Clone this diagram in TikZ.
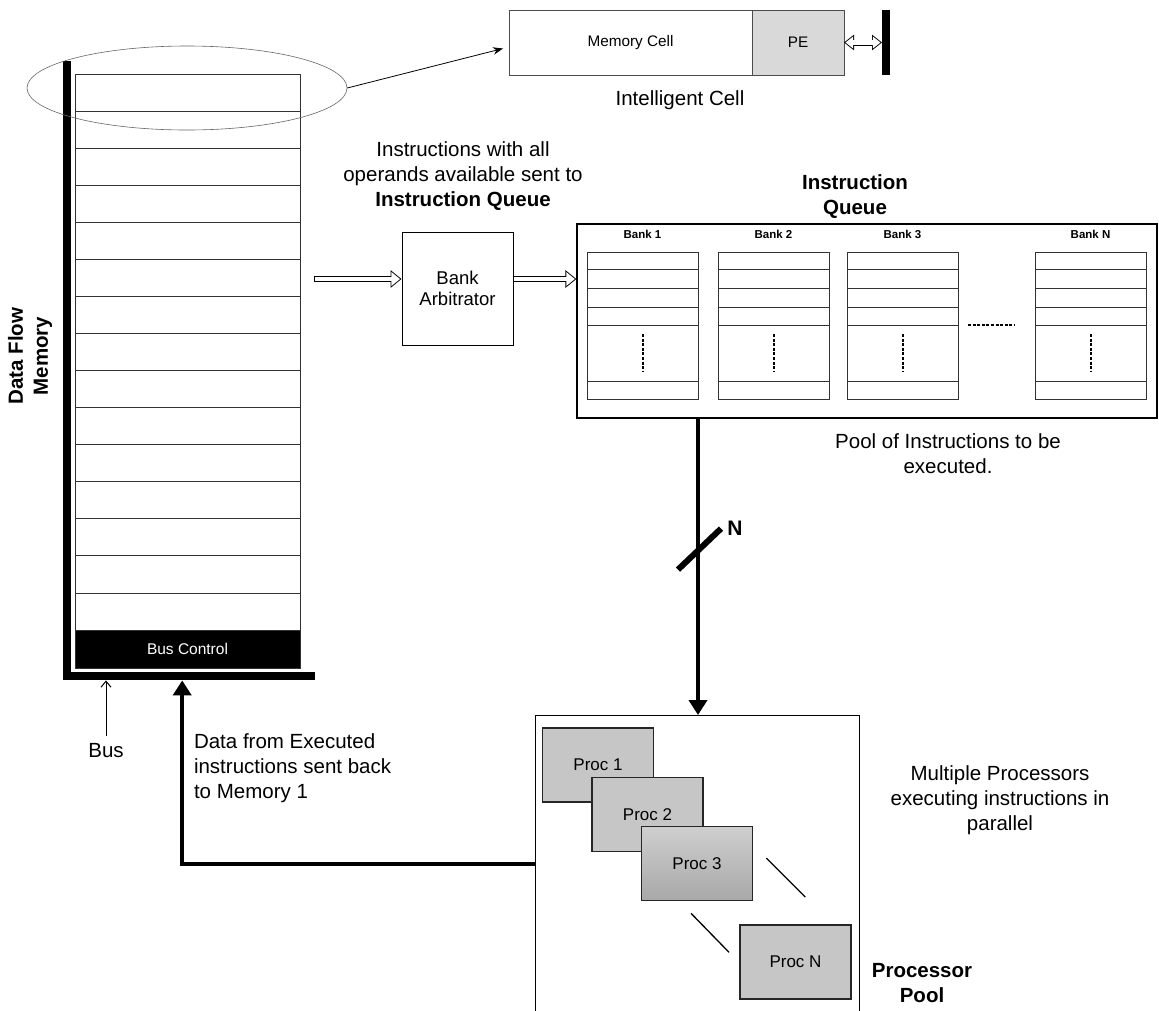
\documentclass[tikz,border=0pt]{standalone}
\usepackage{fontspec}
\setmainfont{Liberation Sans}
\usetikzlibrary{arrows.meta,positioning,calc,shapes.geometric}

\tikzset{
  body/.style={font=\fontsize{20.5}{25}\selectfont, align=center},
  bodybf/.style={font=\fontsize{20.5}{25}\selectfont\bfseries, align=center},
  memrow/.style={draw=black!80, line width=0.9pt, minimum width=225pt, minimum height=37.07pt, inner sep=0pt, outer sep=0pt},
  bankrow/.style={draw=black!80, line width=0.9pt, minimum width=111pt, inner sep=0pt, outer sep=0pt},
  procbox/.style={draw=black!85, line width=1.6pt, fill=gray!45, minimum width=111pt, minimum height=74pt, inner sep=0pt, font=\fontsize{17}{20}\selectfont},
  hollowarrow/.style={line width=6pt, -{Triangle[length=11pt, width=17pt]},
    postaction={draw=white, line width=4.2pt, shorten <=0.9pt, shorten >=1.5pt, -{Triangle[length=8.6pt, width=13.3pt]}}},
  hollowboth/.style={line width=6pt, {Triangle[length=10pt, width=15pt]}-{Triangle[length=10pt, width=15pt]},
    postaction={draw=white, line width=4.2pt, shorten <=1.5pt, shorten >=1.5pt, {Triangle[length=7.6pt, width=11.5pt]}-{Triangle[length=7.6pt, width=11.5pt]}}},
  thickarrow/.style={line width=4pt, -{Triangle[length=15pt, width=18pt]}},
  dots/.style={dash pattern=on 3pt off 1.6pt, line width=2pt},
}

\begin{document}
\begin{tikzpicture}[x=1pt, y=-1pt]
  \useasboundingbox (0,0) rectangle (1159,1010);
  \clip (0,0) rectangle (1159,1010);

  \node[fill=black, minimum width=8pt, minimum height=619pt, inner sep=0pt, anchor=north west] (memspine) at (63,61) {};
  \node[fill=black, minimum width=252pt, minimum height=8pt, inner sep=0pt, anchor=north west] (membus) at (63,672) {};
  \foreach \i in {0,...,14}
    \node[memrow] (row\i) at (187.5,{92.5+37.07*\i}) {};
  \node[memrow, fill=black, text=white, minimum height=38pt, anchor=north, font=\fontsize{15.5}{18}\selectfont] (busctl) at (row14.south) {Bus Control};
  \node[bodybf, rotate=90] (memlbl) at (30,356) {Data Flow\\Memory};

  \node[ellipse, draw=black!60, line width=0.6pt, minimum width=320pt, minimum height=84pt] (zoomring) at (187,88) {};

  \node[draw=black!70, line width=0.8pt, outer sep=0pt, minimum width=243pt, minimum height=65pt, font=\fontsize{15.3}{18}\selectfont] (cellmem) at (630.5,42.5) {Memory Cell};
  \node[draw=black!70, fill=gray!30, line width=0.8pt, outer sep=0pt, minimum width=92pt, minimum height=65pt, right=0pt of cellmem, font=\fontsize{15.3}{18}\selectfont] (cellpe) {PE};
  \node[fill=black, minimum width=8pt, minimum height=65pt, inner sep=0pt, right=38pt of cellpe] (cellbus) {};
  \node[body] (celllbl) at (680,100) {Intelligent Cell};
  \draw[-{Stealth[length=10pt]}, line width=0.8pt] (zoomring.east) -- ([xshift=-6pt, yshift=-6pt]cellmem.west);
  \draw[hollowboth] (cellpe) -- (cellbus);

  \node[body] (sendtxt) at (463,176) {Instructions with all\\operands available sent to\\\textbf{Instruction Queue}};

  \node[draw, line width=0.9pt, minimum width=111pt, minimum height=113pt, align=center, font=\fontsize{18.5}{21}\selectfont] (arb) at (457.5,288.5) {Bank\\Arbitrator};
  \node[draw, line width=1.2pt, minimum width=580pt, minimum height=194pt] (queue) at (867,321) {};
  \node[bodybf] (queuelbl) at (855,197) {Instruction\\Queue};

  \coordinate (memout) at (314,279);
  \draw[hollowarrow] (memout) -- (memout -| arb.west);
  \draw[hollowarrow] (memout -| arb.east) -- (memout -| queue.west);

  \foreach \bx/\bn in {642.5/1, 773.5/2, 902.5/3, 1090.5/N} {
    \node[font=\fontsize{11.5}{13}\selectfont\bfseries] (banklbl\bn) at (\bx,234) {Bank \bn};
    \foreach \ry/\rh [count=\k] in {260.5/17pt, 278.5/19pt, 297.5/19pt, 316/18pt, 353/56pt, 390/18pt}
      \node[bankrow, minimum height=\rh] (bank\bn-\k) at (\bx,\ry) {};
    \draw[dots] ([yshift=-9pt]bank\bn-5.north) -- ([yshift=9pt]bank\bn-5.south);
  }
  \draw[dots] ($(bank3-4.south east)+(10,0)$) -- ($(bankN-4.south west)+(-20,0)$);
  \node[body] (pooltxt) at (948,454) {Pool of Instructions to be\\executed.};

  \node[draw, line width=0.9pt, minimum width=324pt, minimum height=330pt, anchor=north] (pool) at (697,715) {};
  \node[procbox] (proc1) at (598,765) {Proc 1};
  \node[procbox] (proc2) at (647.5,814.5) {Proc 2};
  \node[procbox, top color=gray!38, bottom color=gray!68] (proc3) at (697,863.5) {Proc 3};
  \node[procbox] (procN) at (795.5,962) {Proc N};
  \draw[line width=1.3pt] ($(proc3.east)+(13,-5.5)$) -- ($(proc3.east)+(52,33.5)$);
  \draw[line width=1.3pt] ($(proc3.south)+(-6,12)$) -- ($(proc3.south)+(32,51)$);
  \node[body] (multitxt) at (1000,800) {Multiple Processors\\executing instructions in\\parallel};
  \node[bodybf] (poollbl) at (922,983) {Processor\\Pool};

  \coordinate (qout) at (queue.south -| bank1-6.east);
  \draw[thickarrow] (qout) -- (qout |- pool.north);
  \draw[line width=6pt] ($(qout)+(-20,151)$) -- ($(qout)+(23,110)$);
  \node[font=\fontsize{21}{24}\selectfont\bfseries] (nlbl) at (735,528) {N};

  \draw[thickarrow] (pool.west |- proc3) -| ($(membus.south)+(-7,0)$);
  \node[body, align=left, anchor=west] (backtxt) at (190.5,768) {Data from Executed\\instructions sent back\\to Memory 1};

  \node[body] (buslbl) at (106,751) {Bus};
  \draw[-{Straight Barb[length=6pt, width=10pt]}, line width=1pt] ([yshift=4pt]buslbl.north) -- (buslbl.north |- membus.south);
\end{tikzpicture}
\end{document}
